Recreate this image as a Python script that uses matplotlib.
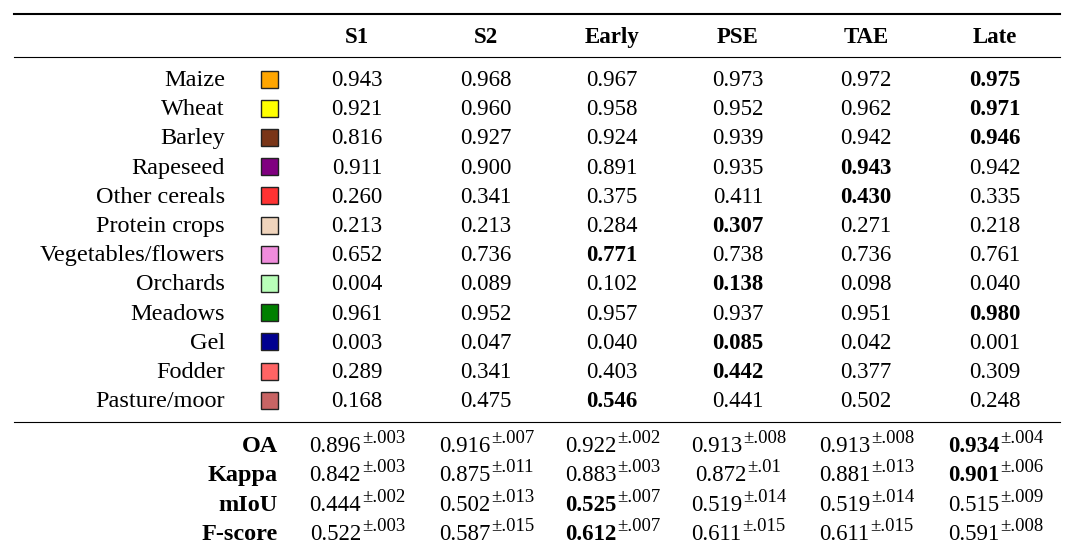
import matplotlib.pyplot as plt
from matplotlib.patches import Rectangle
import numpy as np

plt.rcParams['font.family'] = ['Liberation Serif', 'DejaVu Serif']

# table data
columns = ["S1", "S2", "Early", "PSE", "TAE", "Late"]
classes = ["Maize", "Wheat", "Barley", "Rapeseed", "Other cereals", "Protein crops",
           "Vegetables/flowers", "Orchards", "Meadows", "Gel", "Fodder", "Pasture/moor"]
class_colors = ["#ffa500", "#ffff00", "#7a3518", "#800080", "#ff3333", "#f0d4bc",
                "#f08cdc", "#b8ffb8", "#008000", "#000090", "#ff6464", "#c86464"]

s1 = [0.943, 0.921, 0.816, 0.911, 0.260, 0.213, 0.652, 0.004, 0.961, 0.003, 0.289, 0.168]
s2 = [0.968, 0.960, 0.927, 0.900, 0.341, 0.213, 0.736, 0.089, 0.952, 0.047, 0.341, 0.475]
early = [0.967, 0.958, 0.924, 0.891, 0.375, 0.284, 0.771, 0.102, 0.957, 0.040, 0.403, 0.546]
pse = [0.973, 0.952, 0.939, 0.935, 0.411, 0.307, 0.738, 0.138, 0.937, 0.085, 0.442, 0.441]
tae = [0.972, 0.962, 0.942, 0.943, 0.430, 0.271, 0.736, 0.098, 0.951, 0.042, 0.377, 0.502]
late = [0.975, 0.971, 0.946, 0.942, 0.335, 0.218, 0.761, 0.040, 0.980, 0.001, 0.309, 0.248]

metrics = ["OA", "Kappa", "mIoU", "F-score"]
metric_vals = [
    [0.896, 0.916, 0.922, 0.913, 0.913, 0.934],
    [0.842, 0.875, 0.883, 0.872, 0.881, 0.901],
    [0.444, 0.502, 0.525, 0.519, 0.519, 0.515],
    [0.522, 0.587, 0.612, 0.611, 0.611, 0.591],
]
metric_std = [
    [".003", ".007", ".002", ".008", ".008", ".004"],
    [".003", ".011", ".003", ".01", ".013", ".006"],
    [".002", ".013", ".007", ".014", ".014", ".009"],
    [".003", ".015", ".007", ".015", ".015", ".008"],
]

fig = plt.figure(figsize=(10.66, 5.47), dpi=100)
ax = fig.add_axes([0, 0, 1, 1])
ax.set_xlim(0, 1066)
ax.set_ylim(547, 0)
ax.axis('off')
renderer = fig.canvas.get_renderer()

fs = 16.5        # numbers / headers
fs_lab = 17.5    # row labels
fs_sup = 13.5    # superscript std
col_x = [357, 486, 612, 738, 866, 995]
label_right = 225
sq_x, sq_size = 261, 17

# rules
ax.plot([14, 1060], [14, 14], color='black', lw=1.5)
ax.plot([14, 1060], [57, 57], color='black', lw=0.8)
ax.plot([14, 1060], [422, 422], color='black', lw=0.8)

for x, c in zip(col_x, columns):
    ax.text(x, 43, c, ha='center', va='baseline', fontsize=fs, fontweight='bold')

class_table = np.array([s1, s2, early, pse, tae, late]).T
row_y0, row_dy = 86, 29.2
for i, (name, col) in enumerate(zip(classes, class_colors)):
    y = row_y0 + i * row_dy
    ax.text(label_right, y, name, ha='right', va='baseline', fontsize=fs_lab)
    ax.add_patch(Rectangle((sq_x, y - 7 - sq_size / 2), sq_size, sq_size,
                           facecolor=col, edgecolor='#222222', lw=1.0))
    best = np.argmax(class_table[i])
    for j, v in enumerate(class_table[i]):
        ax.text(col_x[j], y, f"{v:.3f}", ha='center', va='baseline', fontsize=fs,
                fontweight='bold' if j == best else 'normal')

met_y0, met_dy = 452, 29.3
for i, name in enumerate(metrics):
    y = met_y0 + i * met_dy
    ax.text(278, y, name, ha='right', va='baseline', fontsize=fs_lab, fontweight='bold')
    best = np.argmax(metric_vals[i])
    for j, v in enumerate(metric_vals[i]):
        tb = ax.text(0, y, f"{v:.3f}", ha='left', va='baseline', fontsize=fs,
                     fontweight='bold' if j == best else 'normal')
        ts = ax.text(0, y - 9, "\u00b1" + metric_std[i][j], ha='left', va='baseline',
                     fontsize=fs_sup)
        wb = tb.get_window_extent(renderer).width
        ws = ts.get_window_extent(renderer).width
        x0 = col_x[j] - (wb + ws) / 2
        tb.set_x(x0)
        ts.set_x(x0 + wb + 1)

fig.savefig('out.png', dpi=100)
